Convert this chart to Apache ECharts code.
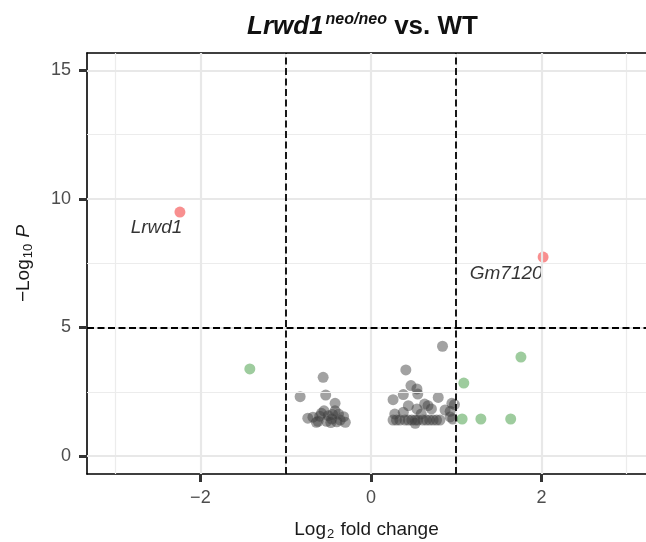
<!DOCTYPE html>
<html><head><meta charset="utf-8">
<script src="https://cdn.jsdelivr.net/npm/echarts@6/dist/echarts.min.js"></script>
<style>html,body{margin:0;padding:0;background:#fff}#c{width:646px;height:542px}</style>
</head><body><div id="c"></div>
<script>
// axis ticks / reference lines
const xTicks = [-2, 0, 2];
const yTicks = [0, 5, 10, 15];
const xMinor = [-3, -1, 1, 3];
const yMinor = [2.5, 7.5, 12.5];
const fcCutoffs = [-1, 1];
const pCutoffs = [5];

// non-significant (grey) genes
const nsFC = [-0.56,-0.83,-0.53,-0.42,-0.74,-0.68,-0.62,-0.58,-0.55,-0.50,-0.46,-0.42,-0.38,-0.36,-0.32,-0.30,-0.52,-0.64,-0.47,-0.40,-0.60,-0.45,
  0.84,0.41,0.47,0.54,0.55,0.38,0.26,0.79,0.95,0.44,0.63,0.67,0.54,0.71,0.87,0.93,0.28,0.38,0.59,
  0.26,0.30,0.34,0.40,0.44,0.48,0.52,0.55,0.61,0.65,0.69,0.73,0.77,0.81,0.52,0.93,0.98,0.96];
const nsP  = [3.06,2.31,2.37,2.05,1.47,1.51,1.35,1.66,1.76,1.57,1.44,1.76,1.63,1.40,1.53,1.31,1.35,1.31,1.30,1.33,1.55,1.62,
  4.27,3.35,2.74,2.61,2.41,2.39,2.19,2.28,2.05,1.96,2.02,1.96,1.83,1.83,1.79,1.74,1.63,1.70,1.63,
  1.40,1.40,1.40,1.40,1.40,1.40,1.40,1.40,1.40,1.40,1.40,1.40,1.40,1.40,1.27,1.52,2.00,1.44];

// fold-change only (green) genes
const fcFC = [-1.42, 1.76, 1.09, 1.07, 1.29, 1.64];
const fcP  = [3.39, 3.85, 2.84, 1.44, 1.44, 1.44];

// significant (red) genes
const sigNames = ['Lrwd1', 'Gm7120'];
const sigFC = [-2.24, 2.02];
const sigP  = [9.49, 7.74];

const zip = (a, b) => a.map((v, i) => [v, b[i]]);
const minus = v => (v < 0 ? '\u2212' + Math.abs(v) : String(v));
const FONT = 'Liberation Sans, Arial, sans-serif';

const chart = echarts.init(document.getElementById('c'), null, {renderer: 'canvas'});

function gridLines(vals, axis, width, color) {
  return vals.map(v => ({[axis]: v, lineStyle: {width: width, color: color, type: 'solid'}}));
}

chart.setOption({
  animation: false,
  backgroundColor: '#fff',
  textStyle: {fontFamily: FONT},
  title: {
    left: 242, top: 5,
    text: '{a|Lrwd1}{b|neo/neo}{c| vs. WT}',
    textStyle: {
      rich: {
        a: {fontSize: 26, fontWeight: 'bold', fontStyle: 'italic', color: '#111', fontFamily: FONT, lineHeight: 34},
        b: {fontSize: 16, fontWeight: 'bold', fontStyle: 'italic', color: '#111', fontFamily: FONT, verticalAlign: 'top', padding: [2, 0, 12, 2]},
        c: {fontSize: 26, fontWeight: 'bold', color: '#111', fontFamily: FONT, lineHeight: 34}
      }
    }
  },
  grid: {left: 87, right: 0, top: 53, bottom: 68, containLabel: false, outerBoundsMode: 'none'},
  xAxis: [{
    type: 'value', min: -3.33, max: 3.227,
    axisLine: {show: true, onZero: false, lineStyle: {color: '#000', width: 1.6}},
    axisTick: {show: true, customValues: xTicks, length: 8, lineStyle: {color: '#333', width: 3}},
    axisLabel: {customValues: xTicks, formatter: minus, fontSize: 18, color: '#4d4d4d', margin: 15, fontFamily: FONT},
    splitLine: {show: false},
    name: '{t|Log}{s|2}{t| fold change}', nameLocation: 'middle', nameGap: 44,
    nameTextStyle: {rich: {
      t: {fontSize: 19, color: '#1a1a1a', fontFamily: FONT},
      s: {fontSize: 13, color: '#1a1a1a', fontFamily: FONT, verticalAlign: 'bottom', padding: [10, 1, 0, 1]}
    }}
  }, {
    type: 'value', position: 'top', min: -3.33, max: 3.227,
    axisLine: {show: true, onZero: false, lineStyle: {color: '#000', width: 1.6}},
    axisTick: {show: false}, axisLabel: {show: false}, splitLine: {show: false}
  }],
  yAxis: {
    type: 'value', min: -0.7, max: 15.68,
    axisLine: {show: true, onZero: false, lineStyle: {color: '#000', width: 1.6}},
    axisTick: {show: true, customValues: yTicks, length: 8, lineStyle: {color: '#333', width: 3}},
    axisLabel: {customValues: yTicks, fontSize: 18, color: '#4d4d4d', margin: 16, fontFamily: FONT},
    splitLine: {show: false},
    name: '{t|\u2212Log}{s|10}{t| }{i|P}', nameLocation: 'middle', nameGap: 52, nameRotate: 90,
    nameTextStyle: {rich: {
      t: {fontSize: 19, color: '#1a1a1a', fontFamily: FONT},
      s: {fontSize: 13, color: '#1a1a1a', fontFamily: FONT, verticalAlign: 'bottom', padding: [10, 1, 0, 1]},
      i: {fontSize: 19, color: '#1a1a1a', fontFamily: FONT, fontStyle: 'italic'}
    }}
  },
  series: [
    {
      type: 'scatter', data: [], z: 0, silent: true,
      markLine: {
        silent: true, symbol: 'none', label: {show: false}, animation: false,
        data: [].concat(
          gridLines(xMinor, 'xAxis', 1.2, '#ececec'),
          gridLines(yMinor, 'yAxis', 1.2, '#ececec'),
          gridLines(xTicks, 'xAxis', 2.2, '#e8e8e8'),
          gridLines(yTicks, 'yAxis', 2.2, '#e8e8e8')
        )
      }
    },
    {
      name: 'NS', type: 'scatter', z: 2, symbolSize: 11,
      itemStyle: {color: 'rgba(60,60,60,0.6)'},
      data: zip(nsFC, nsP)
    },
    {
      name: 'Log2FC', type: 'scatter', z: 2, symbolSize: 11,
      itemStyle: {color: 'rgba(34,139,34,0.55)'},
      data: zip(fcFC, fcP)
    },
    {
      name: 'P & Log2FC', type: 'scatter', z: 2, symbolSize: 11,
      itemStyle: {color: 'rgba(238,0,0,0.55)'},
      data: sigFC.map((v, i) => ({
        value: [v, sigP[i]], name: sigNames[i],
        label: {
          show: true, formatter: sigNames[i],
          position: i === 0 ? [8, 21] : [5, 22], align: 'right', verticalAlign: 'middle',
          fontSize: 19, fontStyle: 'italic', color: '#000', fontFamily: FONT
        }
      }))
    },
    {
      type: 'scatter', data: [], z: 5, silent: true,
      markLine: {
        silent: true, symbol: 'none', label: {show: false}, animation: false,
        lineStyle: {color: '#000', width: 1.8, type: [7, 3.5]},
        data: [].concat(
          fcCutoffs.map(v => ({xAxis: v})),
          pCutoffs.map(v => ({yAxis: v}))
        )
      }
    }
  ]
});
</script>
</body></html>
